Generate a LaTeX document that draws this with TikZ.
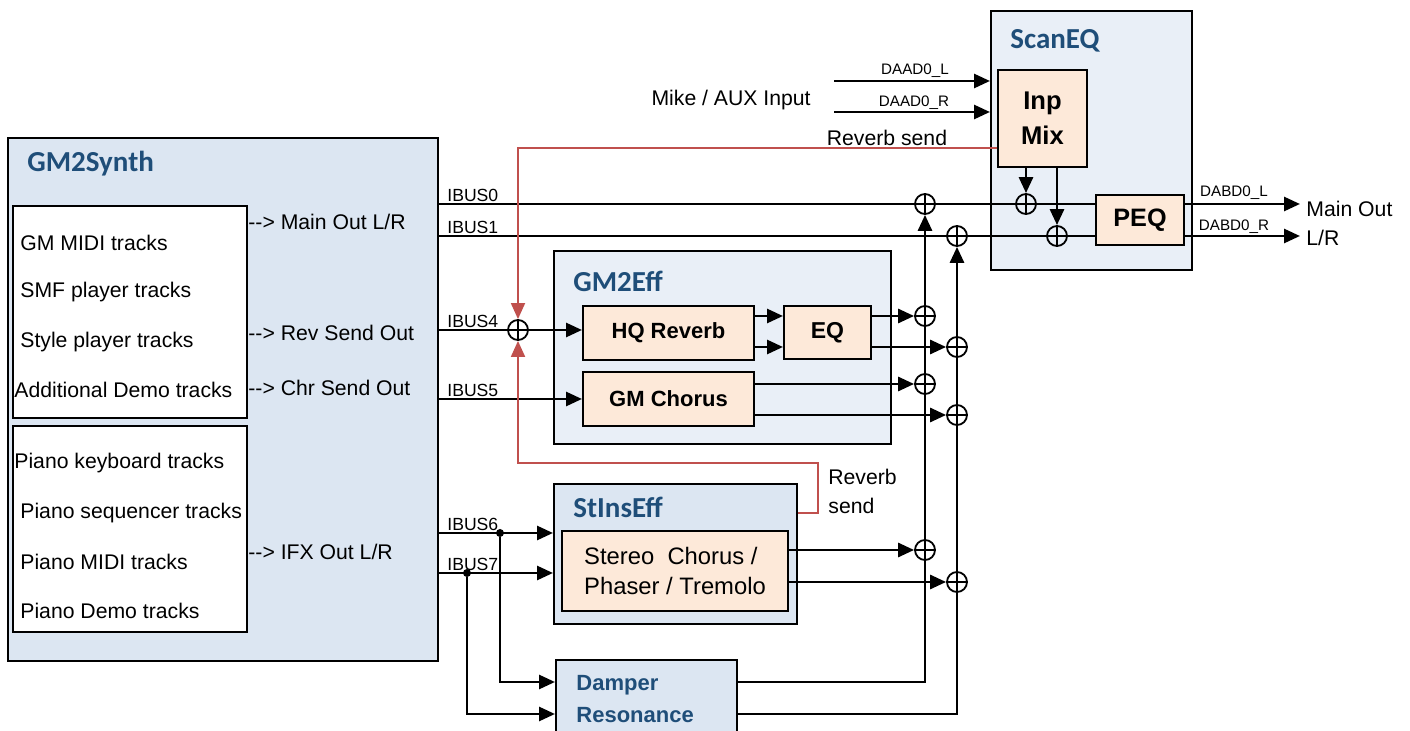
\documentclass[tikz,border=0pt]{standalone}
\usepackage{fontspec}
\setmainfont{Liberation Sans}
\newfontfamily\titlefont{Carlito}
\usetikzlibrary{arrows.meta, positioning}
\definecolor{synth-blue}{RGB}{220,230,242}
\definecolor{eff-blue}{RGB}{233,239,247}
\definecolor{fx-peach}{RGB}{253,233,217}
\definecolor{title-blue}{RGB}{31,78,121}
\definecolor{send-red}{RGB}{192,80,77}

\tikzset{
  panel/.style={draw, line width=1pt, anchor=north west, inner sep=0pt},
  synthpanel/.style={panel, fill=synth-blue},
  effpanel/.style={panel, fill=eff-blue},
  fxbox/.style={panel, fill=fx-peach, font=\bfseries\fontsize{11}{13}\selectfont},
  title/.style={anchor=west, inner sep=0pt, text=title-blue, font=\titlefont\bfseries\fontsize{14.5}{16}\selectfont},
  trk/.style={anchor=west, inner sep=0pt},
  buslbl/.style={anchor=south west, inner sep=1pt, xshift=3pt, font=\fontsize{8.8}{10}\selectfont},
  chlbl/.style={inner sep=0pt, font=\fontsize{7.6}{9}\selectfont},
  sum/.style={circle, draw, line width=0.9pt, minimum size=10pt, inner sep=0pt,
    path picture={\draw[line width=0.9pt] (path picture bounding box.north) -- (path picture bounding box.south)
      (path picture bounding box.west) -- (path picture bounding box.east);}},
  jdot/.style={circle, fill, minimum size=4pt, inner sep=0pt},
  bus/.style={line width=1.4pt},
  sig/.style={bus, -{Triangle[length=8pt,width=7pt]}},
  rsend/.style={draw=send-red, line width=0.9pt, -{Triangle[length=8pt,width=7pt]}},
}

\begin{document}
\begin{tikzpicture}[x=0.5pt, y=-0.5pt, font=\fontsize{10.6}{13}\selectfont]
\useasboundingbox (0,0) rectangle (1410,731);

% GM2Synth
\node[synthpanel, minimum width=215pt, minimum height=261.5pt] (synth) at (7,137) {};
\node[title] (synthT) at (27,164) {GM2Synth};
\node[panel, fill=white, minimum width=117pt, minimum height=106pt] (gmtrk) at (12,205) {};
  \node[trk] (t1) at (20,243) {GM MIDI tracks};
  \node[trk] (t2) at (20,292) {SMF player tracks};
  \node[trk] (t3) at (20,342) {Style player tracks};
  \node[trk] (t4) at (14,390) {Additional Demo tracks};
\node[panel, fill=white, minimum width=117pt, minimum height=103pt] (pnotrk) at (12,425) {};
  \node[trk] (p1) at (14,463) {Piano keyboard tracks};
  \node[trk] (p2) at (20,513) {Piano sequencer tracks};
  \node[trk] (p3) at (20,562) {Piano MIDI tracks};
  \node[trk] (p4) at (20,611) {Piano Demo tracks};
\node[trk] (o1) at (248,222) {-{}-> Main Out L/R};
\node[trk] (o2) at (248,333) {-{}-> Rev Send Out};
\node[trk] (o3) at (248,388) {-{}-> Chr Send Out};
\node[trk] (o4) at (248,552) {-{}-> IFX Out L/R};

% ScanEQ
\node[effpanel, minimum width=100.5pt, minimum height=129.5pt] (scaneq) at (990,10) {};
\node[title] (scaneqT) at (1010,41) {ScanEQ};
\node[fxbox, minimum width=44.5pt, minimum height=48.5pt, align=center,
  font=\bfseries\fontsize{12.8}{17.5}\selectfont] (inpmix) at (997,69) {Inp\\Mix};
\node[fxbox, minimum width=44pt, minimum height=25pt, font=\bfseries\fontsize{12.6}{14}\selectfont] (peq) at (1095,194) {PEQ};

% GM2Eff
\node[effpanel, minimum width=168.5pt, minimum height=96.5pt] (gmeff) at (553,250) {};
\node[title] (gmeffT) at (573,281) {GM2Eff};
\node[fxbox, minimum width=85.5pt, minimum height=27pt] (hqrev) at (582,305) {HQ Reverb};
\node[fxbox, minimum width=43.5pt, minimum height=26.5pt, font=\bfseries\fontsize{11.5}{13}\selectfont] (eq) at (783,305) {EQ};
\node[fxbox, minimum width=85.5pt, minimum height=27pt] (chorus) at (582,371) {GM Chorus};

% StInsEff
\node[synthpanel, minimum width=121.5pt, minimum height=70pt] (stins) at (553,483) {};
\node[title] (stinsT) at (573,507) {StInsEff};
\node[fxbox, minimum width=113pt, minimum height=40pt, align=left,
  font=\fontsize{11.9}{15}\selectfont] (stfx) at (561,530) {Stereo\ \ Chorus /\\Phaser / Tremolo};

% Damper (runs off the page)
\node[synthpanel, minimum width=90.5pt, minimum height=45pt] (damper) at (555,659) {};
\node[anchor=west, inner sep=0pt, align=left, text=title-blue,
  font=\bfseries\fontsize{11}{16}\selectfont] (damperT) at (576,699) {Damper\\Resonance};

% adders and taps
\node[sum] (s4) at (518,330) {};
\node[sum] (aL) at (925,204) {};
\node[sum] (aR) at (957,236) {};
\node[sum] (mL) at (1026,204) {};
\node[sum] (mR) at (1057,236) {};
\node[sum] (rL) at (925,316) {};
\node[sum] (rR) at (957,347) {};
\node[sum] (cL) at (925,384) {};
\node[sum] (cR) at (957,415) {};
\node[sum] (iL) at (925,550) {};
\node[sum] (iR) at (957,582) {};
\node[jdot] (d6) at (500,533) {};
\node[jdot] (d7) at (467,573) {};
\coordinate (dmpL) at (736,682);
\coordinate (dmpR) at (736,714);
\coordinate (inL) at (834,81);
\coordinate (inR) at (834,112);
\coordinate (outL) at (1300,204);
\coordinate (outR) at (1300,236);

% IBUS lines
\draw[bus] (synth.east |- aL) -- (peq.west |- aL);
\draw[bus] (synth.east |- aR) -- (peq.west |- aR);
\draw[bus] (synth.east |- s4) -- (s4);
\draw[sig] (s4) -- (hqrev.west |- s4);
\draw[sig] (synth.east |- chorus.west) -- (chorus.west);
\draw[sig] (synth.east |- d6) -- (stins.west |- d6);
\draw[sig] (synth.east |- d7) -- (stins.west |- d7);
\draw[sig] (d6) |- (damper.west |- dmpL);
\draw[sig] (d7) |- (damper.west |- dmpR);
\node[buslbl] (b0) at (synth.east |- aL) {IBUS0};
\node[buslbl] (b1) at (synth.east |- aR) {IBUS1};
\node[buslbl] (b4) at (synth.east |- s4) {IBUS4};
\node[buslbl] (b5) at (synth.east |- chorus.west) {IBUS5};
\node[buslbl] (b6) at (synth.east |- d6) {IBUS6};
\node[buslbl] (b7) at (synth.east |- d7) {IBUS7};

% effect returns
\draw[sig] (hqrev.east |- rL) -- (eq.west |- rL);
\draw[sig] (hqrev.east |- rR) -- (eq.west |- rR);
\draw[sig] (eq.east |- rL) -- (rL);
\draw[sig] (eq.east |- rR) -- (rR);
\draw[sig] (chorus.east |- cL) -- (cL);
\draw[sig] (chorus.east |- cR) -- (cR);
\draw[sig] (stfx.east |- iL) -- (iL);
\draw[sig] (stfx.east |- iR) -- (iR);
\draw[sig] (dmpL) -| (aL);
\draw[sig] (dmpR) -| (aR);

% ScanEQ in/out
\draw[sig] (inL) -- (scaneq.west |- inL);
\draw[sig] (inR) -- (scaneq.west |- inR);
\draw[sig] (inpmix.south -| mL) -- (mL);
\draw[sig] (inpmix.south -| mR) -- (mR);
\draw[sig] (peq.east |- outL) -- (outL);
\draw[sig] (peq.east |- outR) -- (outR);
\node[anchor=east, inner sep=0pt] (mike) at (811,100) {Mike / AUX Input};
\node[chlbl] (daL) at (915,71) {DAAD0\_L};
\node[chlbl] (daR) at (914,103) {DAAD0\_R};
\node[chlbl] (dbL) at (1234,193) {DABD0\_L};
\node[chlbl] (dbR) at (1234,227) {DABD0\_R};
\node[trk] (mainout) at (1306,209) {Main Out};
\node[trk] (mainlr) at (1306,238) {L/R};

% reverb sends
\coordinate (rvtop) at (inpmix.west |- 0,148);
\coordinate (rvbot) at (stins.east |- 0,513);
\coordinate (rvturn) at (818,463);
\draw[rsend] (rvtop) -| (s4);
\draw[rsend] (rvbot) -| (rvturn) -| (s4);
\node (rvT) at (887,138) {Reverb send};
\node[anchor=west, inner sep=0pt, align=left, font=\fontsize{10.6}{14.5}\selectfont] (rvB) at (828,491) {Reverb\\send};
\end{tikzpicture}
\end{document}
